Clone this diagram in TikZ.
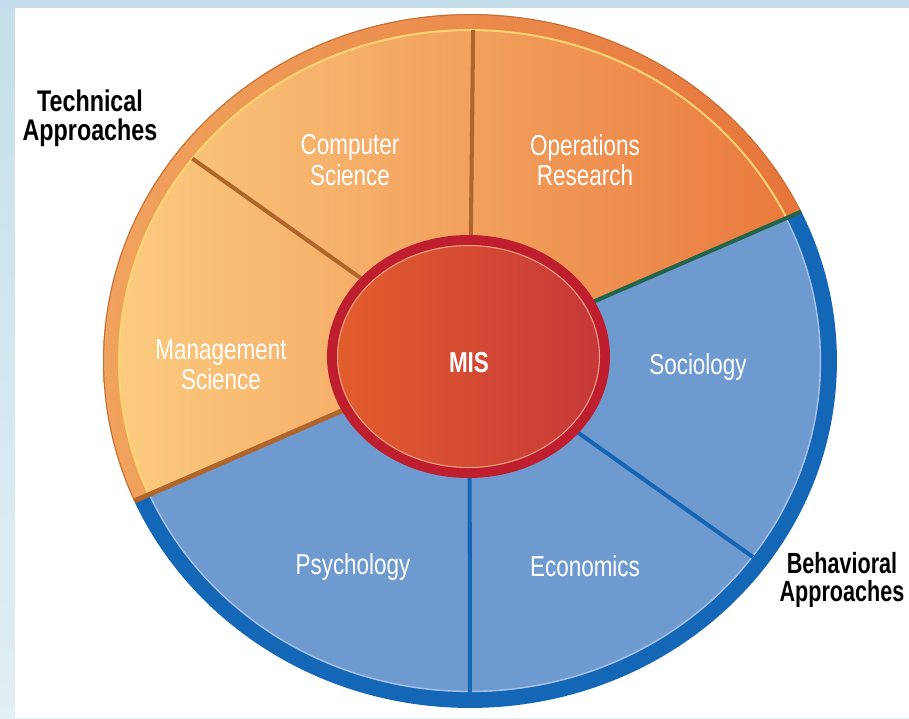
\documentclass[tikz,border=0pt]{standalone}
\usepackage{fontspec}
\newfontfamily\lab[FakeStretch=0.78]{Liberation Sans}
\newfontfamily\labn[FakeStretch=0.74]{Liberation Sans}
\usetikzlibrary{shapes.geometric}
\definecolor{bgtop}{HTML}{C4DFEB}
\definecolor{bgbot}{HTML}{E2EFF4}
\definecolor{ringOL}{HTML}{F0A35E}
\definecolor{ringOR}{HTML}{E6733A}
\definecolor{fillOL}{HTML}{FBCB80}
\definecolor{fillOR}{HTML}{E9763B}
\definecolor{blueF}{HTML}{6F9AD0}
\definecolor{blueR}{HTML}{1466B6}
\definecolor{blueHL}{HTML}{A6C2E8}
\definecolor{yelHL}{HTML}{FFD670}
\definecolor{edgeO}{HTML}{C96E35}
\definecolor{divBrown}{HTML}{B0652B}
\definecolor{divGreen}{HTML}{22654A}
\definecolor{divBlue}{HTML}{1565B4}
\definecolor{misRing}{HTML}{BF1E2E}
\definecolor{misL}{HTML}{E35E2C}
\definecolor{misR}{HTML}{C5373A}
\definecolor{misHL}{HTML}{F3A283}
\tikzset{
  lbl/.style={text=white, font=\lab\fontsize{16.4}{17.2}\selectfont, align=center, inner sep=0pt},
  headlbl/.style={text=black, font=\lab\bfseries\fontsize{17}{16.3}\selectfont, align=center, inner sep=0pt},
  brownline/.style={draw=divBrown, line width=2.3pt},
  blueline/.style={draw=divBlue, line width=2.3pt}
}
\begin{document}
\begin{tikzpicture}[x=0.02cm,y=-0.02cm]
\useasboundingbox (0,0) rectangle (909,718);
% slide background
\shade[top color=bgtop, bottom color=bgbot] (0,0) rectangle (909,718);
\fill[white] (15,8) rectangle (909,718);
% key points
\coordinate (P) at (469.5,355.4);
\coordinate (L1a) at (-20,568);
\coordinate (L1b) at (962,142);
\coordinate (L2a) at (55,61);
\coordinate (L2b) at (895,658);
\coordinate (Vt) at (473.5,0);
\coordinate (Vb) at (470,730);
% outer ring
\begin{scope}
  \clip (470,361) ellipse [x radius=7.34cm, y radius=6.94cm];
  \begin{scope}
    \clip (L1a) -- (L1b) -- (962,-100) -- (-20,-100) -- cycle;
    \shade[left color=ringOL, right color=ringOR] (103,0) rectangle (837,718);
  \end{scope}
  \begin{scope}
    \clip (L1a) -- (L1b) -- (962,800) -- (-20,800) -- cycle;
    \fill[blueR] (0,0) rectangle (909,718);
  \end{scope}
\end{scope}
% inner fills
\begin{scope}
  \clip (470,361) ellipse [x radius=7.02cm, y radius=6.62cm];
  \begin{scope}
    \clip (L1a) -- (L1b) -- (962,-100) -- (-20,-100) -- cycle;
    \shade[left color=fillOL, right color=fillOR] (119,0) rectangle (821,718);
  \end{scope}
  \begin{scope}
    \clip (L1a) -- (L1b) -- (962,800) -- (-20,800) -- cycle;
    \fill[blueF] (0,0) rectangle (909,718);
  \end{scope}
\end{scope}
% highlights on ring edges
\begin{scope}
  \clip (L1a) -- (L1b) -- (962,-100) -- (-20,-100) -- cycle;
  \draw[yelHL, line width=1.1pt] (470,361) ellipse [x radius=7.02cm, y radius=6.62cm];
  \draw[edgeO, line width=0.6pt] (470,361) ellipse [x radius=7.33cm, y radius=6.93cm];
\end{scope}
\begin{scope}
  \clip (L1a) -- (L1b) -- (962,800) -- (-20,800) -- cycle;
  \draw[blueHL, line width=0.8pt] (470,361) ellipse [x radius=7.01cm, y radius=6.61cm];
\end{scope}
% dividers inside the fill
\begin{scope}
  \clip (470,361) ellipse [x radius=7.02cm, y radius=6.62cm];
  \draw[brownline] (P) -- (Vt);
  \draw[brownline] (P) -- (L2a);
  \draw[blueline] (P) -- (L2b);
  \draw[blueline] (P) -- (Vb);
\end{scope}
% main boundary between technical and behavioral halves
\begin{scope}
  \clip (470,361) ellipse [x radius=7.34cm, y radius=6.94cm];
  \draw[draw=divBrown, line width=2.8pt] (P) -- (L1a);
  \draw[draw=divGreen, line width=2.3pt] (P) -- (L1b);
\end{scope}
% MIS hub
\node[ellipse, draw=misRing, line width=5.7pt, minimum width=5.46cm, minimum height=4.66cm,
      inner sep=0pt, left color=misL, right color=misR] (mis) at (468.5,356.5) {};
\draw[misHL, line width=0.6pt] (mis.center) ellipse [x radius=2.62cm, y radius=2.22cm];
\node[lbl, font=\lab\bfseries\fontsize{16.4}{17.2}\selectfont] (mistext) at (469,362.5) {MIS};
% sector labels
\node[lbl] (comp) at (350,160) {Computer\\Science};
\node[lbl] (ops) at (585,160) {Operations\\Research};
\node[lbl] (mgmt) at (221,365) {Management\\Science};
\node[lbl] (soc) at (698,367) {Sociology};
\node[lbl] (psy) at (353,567) {Psychology};
\node[lbl] (eco) at (585,566) {Economics};
% group labels
\node[headlbl] (tech) at (90,118) {Technical\\Approaches};
\node[headlbl, font=\labn\bfseries\fontsize{16.6}{16.3}\selectfont] (behav) at (842,580) {Behavioral\\Approaches};
\end{tikzpicture}
\end{document}
